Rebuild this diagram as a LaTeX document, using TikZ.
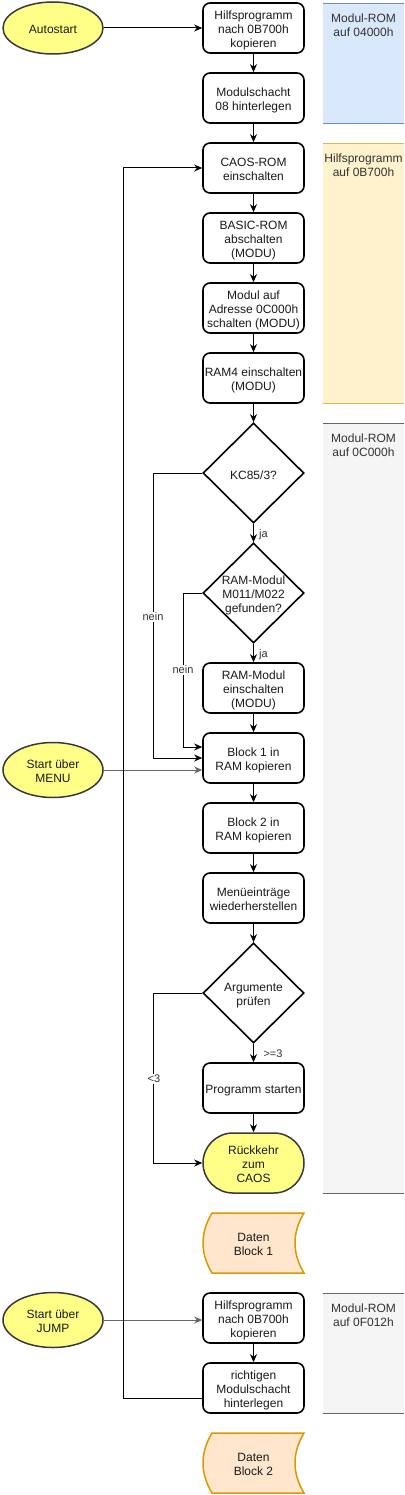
\documentclass[tikz,border=0pt]{standalone}
\usepackage{fontspec}
\setmainfont{Liberation Sans}
\usetikzlibrary{arrows.meta,shapes.geometric,shapes.misc}
\definecolor{ellfill}{HTML}{FFFF88}
\definecolor{ellline}{HTML}{36393D}
\definecolor{bluefill}{HTML}{DAE8FC}
\definecolor{blueline}{HTML}{6C8EBF}
\definecolor{yelfill}{HTML}{FFF2CC}
\definecolor{yelline}{HTML}{D6B656}
\definecolor{grayfill}{HTML}{F5F5F5}
\definecolor{grayline}{HTML}{666666}
\definecolor{datafill}{HTML}{FFE6CC}
\definecolor{dataline}{HTML}{D79B00}
\definecolor{txt}{HTML}{1A1A1A}
\definecolor{lbltxt}{HTML}{333333}
\tikzset{
 base/.style={font=\fontsize{12}{14}\selectfont, text=txt, align=center, inner sep=0pt},
 tdesc/.style={base, yshift=-2.5pt},
 tnone/.style={base, yshift=-1.3pt},
 stepbox/.style={draw=black, line width=1.6pt, rounded corners=7pt, minimum width=101pt, minimum height=50pt, fill=white, inner sep=0pt},
 decision/.style={draw=black, line width=1.6pt, diamond, minimum width=101pt, minimum height=100pt, inner sep=0pt, fill=white},
 startell/.style={ellipse, draw=ellline, fill=ellfill, line width=1.5pt, minimum width=100pt, minimum height=52pt, inner sep=0pt},
 terminal/.style={rounded rectangle, draw=ellline, fill=ellfill, line width=1.5pt, minimum width=101pt, minimum height=60pt, inner sep=0pt},
 datashp/.style={draw=dataline, fill=datafill, line width=1.5pt},
 flow/.style={draw=black, line width=1pt, -{Stealth[length=8pt,width=7pt,inset=2.5pt]}},
 grayflow/.style={flow, draw=grayline},
 lbl/.style={font=\fontsize{11}{13}\selectfont, text=lbltxt, inner sep=1pt},
 bandtext/.style={base, text=lbltxt},
}
\begin{document}
\begin{tikzpicture}[x=1pt,y=-1pt]
\useasboundingbox (0,0) rectangle (404,1495);
% bands
\fill[bluefill] (323,3) rectangle (404,123);
\draw[blueline] (323,3) -- (404,3) (323,123) -- (404,123);
\node[bandtext] (bt1) at (363.5,25) {Modul-ROM\\auf 04000h};
\fill[yelfill] (323,143) rectangle (404,403);
\draw[yelline] (323,143) -- (404,143) (323,403) -- (404,403);
\node[bandtext] (bt2) at (363.5,165) {Hilfsprogramm\\auf 0B700h};
\fill[grayfill] (323,423) rectangle (404,1193);
\draw[grayline] (323,423) -- (404,423) (323,1193) -- (404,1193);
\node[bandtext] (bt3) at (363.5,445) {Modul-ROM\\auf 0C000h};
\fill[grayfill] (323,1293) rectangle (404,1413);
\draw[grayline] (323,1293) -- (404,1293) (323,1413) -- (404,1413);
\node[bandtext] (bt4) at (363.5,1315) {Modul-ROM\\auf 0F012h};

% start ellipses
\node[startell] (auto) at (53,28) {};
\node[tnone] (autot) at (auto) {Autostart};
\node[startell, minimum height=55pt] (menu) at (53,770) {};
\node[tnone] (menut) at (menu) {Start über\\MENU};
\node[startell, minimum height=55pt] (jump) at (53,1320) {};
\node[tnone] (jumpt) at (jump) {Start über\\JUMP};

% boxes
\node[stepbox] (b1) at (253.5,28) {};
\node[tdesc] (b1t) at (b1) {Hilfsprogramm\\nach 0B700h\\kopieren};
\node[stepbox] (b2) at (253.5,98) {};
\node[tdesc] (b2t) at (b2) {Modulschacht\\08 hinterlegen};
\node[stepbox] (b3) at (253.5,168) {};
\node[tnone] (b3t) at (b3) {CAOS-ROM\\einschalten};
\node[stepbox] (b4) at (253.5,238) {};
\node[tdesc] (b4t) at (b4) {BASIC-ROM\\abschalten\\(MODU)};
\node[stepbox] (b5) at (253.5,308) {};
\node[tdesc] (b5t) at (b5) {Modul auf\\Adresse 0C000h\\schalten (MODU)};
\node[stepbox] (b6) at (253.5,378) {};
\node[tdesc] (b6t) at (b6) {RAM4 einschalten\\(MODU)};
\node[decision] (d1) at (253.5,473) {};
\node[tdesc] (d1t) at (d1) {KC85/3?};
\node[decision] (d2) at (253.5,593) {};
\node[tdesc] (d2t) at (d2) {RAM-Modul\\M011/M022\\gefunden?};
\node[stepbox] (b7) at (253.5,688) {};
\node[tdesc] (b7t) at (b7) {RAM-Modul\\einschalten\\(MODU)};
\node[stepbox] (b8) at (253.5,758) {};
\node[tdesc] (b8t) at (b8) {Block 1 in\\RAM kopieren};
\node[stepbox] (b9) at (253.5,828) {};
\node[tdesc] (b9t) at (b9) {Block 2 in\\RAM kopieren};
\node[stepbox] (b10) at (253.5,898) {};
\node[tnone] (b10t) at (b10) {Menüeinträge\\wiederherstellen};
\node[decision] (d3) at (253.5,993) {};
\node[tdesc] (d3t) at (d3) {Argumente\\prüfen};
\node[stepbox] (b11) at (253.5,1088) {};
\node[tdesc] (b11t) at (b11) {Programm starten};
\node[terminal] (ret) at (253.5,1163) {};
\node[tnone] (rett) at (ret) {Rückkehr\\zum\\CAOS};
\node[stepbox] (b12) at (253.5,1318) {};
\node[tdesc] (b12t) at (b12) {Hilfsprogramm\\nach 0B700h\\kopieren};
\node[stepbox] (b13) at (253.5,1388) {};
\node[tdesc] (b13t) at (b13) {richtigen\\Modulschacht\\hinterlegen};

% data storage shapes
\draw[datashp] (212,1213) -- (304,1213) .. controls (292,1233) and (292,1253) .. (304,1273) -- (212,1273) .. controls (200,1253) and (200,1233) .. (212,1213) -- cycle;
\node[tnone] (db1) at (253.5,1243) {Daten\\Block 1};
\draw[datashp] (212,1433) -- (304,1433) .. controls (292,1453) and (292,1473) .. (304,1493) -- (212,1493) .. controls (200,1473) and (200,1453) .. (212,1433) -- cycle;
\node[tnone] (db2) at (253.5,1463) {Daten\\Block 2};

% helper coordinates
\coordinate (lx) at (123,0);
\coordinate (nx1) at (153,0);
\coordinate (nx2) at (183,0);

% connectors
\draw[flow] (auto.east) -- (auto.east -| b1.west);
\draw[flow] (b1) -- (b2);
\draw[flow] (b2) -- (b3);
\draw[flow] (b3) -- (b4);
\draw[flow] (b4) -- (b5);
\draw[flow] (b5) -- (b6);
\draw[flow] (b6) -- (d1);
\draw[flow] (d1) -- (d2);
\draw[flow] (d2) -- (b7);
\draw[flow] (b7) -- (b8);
\draw[flow] (b8) -- (b9);
\draw[flow] (b9) -- (b10);
\draw[flow] (b10) -- (d3);
\draw[flow] (d3) -- (b11);
\draw[flow] (b11) -- (ret);
\draw[flow] (b12) -- (b13);
\draw[flow] (d1.west) -- (d1.west -| nx1) |- (b8.west);
\draw[flow] (d2.west) -- (d2.west -| nx2) |- ([yshift=11pt]b8.west);
\draw[grayflow] (menu.east) -- (menu.east -| b8.west);
\draw[flow] (d3.west) -- (d3.west -| nx1) |- (ret.west);
\draw[grayflow] (jump.east) -- (jump.east -| b12.west);
\draw[flow] ([yshift=-10pt]b13.west) -| (lx |- b3.west) -- (b3.west);

% labels
\node[lbl] (ja1) at (263.5,535) {ja};
\node[lbl] (ja2) at (263.5,655) {ja};
\node[lbl, fill=white] (nein1) at (153,617) {nein};
\node[lbl, fill=white] (nein2) at (183,670) {nein};
\node[lbl] (ge3) at (273,1054) {>=3};
\node[lbl, fill=white] (lt3) at (154,1079) {<3};
\end{tikzpicture}
\end{document}
